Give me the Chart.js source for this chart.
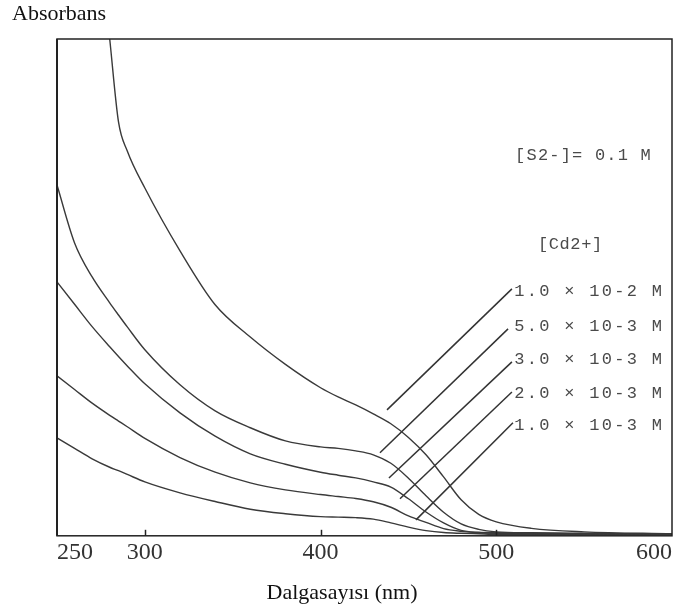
<!DOCTYPE html>
<html>
<head>
<meta charset="utf-8">
<script src="https://cdn.jsdelivr.net/npm/chart.js@4.4.1/dist/chart.umd.min.js"></script>
<style>
html,body{margin:0;padding:0;background:#fff;}
#wrap{width:681px;height:615px;position:relative;}
</style>
</head>
<body>
<div id="wrap"><canvas id="c" width="681" height="615"></canvas></div>
<script>
// ---- data ----
const wavelengths = [250,260,270,280,285,290,300,320,340,360,380,400,410,420,430,440,450,460,470,480,490,500,520,550,600];
const xTickValues = [250,300,400,500,600];

const absCd1_0e2 = [null,null,null,2.00,1.666,1.549,1.400,1.147,0.930,0.800,0.690,0.596,0.559,0.527,0.491,0.451,0.396,0.326,0.237,0.145,0.086,0.056,0.030,0.016,0.008];
const absCd5_0e3 = [1.412,1.179,1.042,0.938,0.889,0.841,0.749,0.608,0.503,0.435,0.382,0.358,0.352,0.342,0.326,0.292,0.232,0.161,0.095,0.048,0.026,0.016,0.012,0.010,0.008];
const absCd3_0e3 = [1.022,0.932,0.842,0.761,0.722,0.684,0.612,0.495,0.401,0.330,0.288,0.256,0.244,0.233,0.217,0.196,0.149,0.096,0.052,0.022,0.014,0.012,0.010,0.008,0.006];
const absCd2_0e3 = [0.644,0.589,0.534,0.485,0.462,0.439,0.392,0.315,0.256,0.213,0.185,0.166,0.158,0.150,0.137,0.115,0.080,0.054,0.029,0.018,0.012,0.010,0.008,0.006,0.006];
const absCd1_0e3 = [0.394,0.352,0.310,0.276,0.262,0.247,0.217,0.173,0.138,0.107,0.089,0.077,0.075,0.073,0.067,0.052,0.035,0.021,0.013,0.010,0.008,0.006,0.006,0.006,0.006];

const seriesLabels = ['1.0 × 10-2 M','5.0 × 10-3 M','3.0 × 10-3 M','2.0 × 10-3 M','1.0 × 10-3 M'];

// leader lines: from curve (wavelength, absorbance) to label (wavelength, absorbance)
const leaderCurveX = [437.8,433.8,438.9,445.2,454.3];
const leaderCurveY = [0.507,0.334,0.233,0.149,0.064];
const leaderLabelX = [508.9,506.7,508.9,508.9,509.5];
const leaderLabelY = [0.994,0.833,0.700,0.579,0.455];
const labelRowY   = [0.982,0.841,0.708,0.571,0.443];

const yTitle = 'Absorbans';
const xTitle = 'Dalgasayısı (nm)';
const sulfideNote = '[S2-]= 0.1 M';
const cadmiumHeader = '[Cd2+]';
const labelColumnX = 510.2;
const sulfideAnchor = {x: 510.7, y: 1.533};
const cadmiumAnchor = {x: 523.7, y: 1.171};

// ---- chart ----
const seriesValues = [absCd1_0e2, absCd5_0e3, absCd3_0e3, absCd2_0e3, absCd1_0e3];
const curveColor = '#3a3a3a';

const datasets = seriesValues.map((vals, i) => ({
  label: seriesLabels[i],
  data: wavelengths.map((w, j) => ({x: w, y: vals[j]})),
  borderColor: curveColor,
  borderWidth: 1.4,
  pointRadius: 0,
  fill: false,
  cubicInterpolationMode: 'monotone',
  spanGaps: false
}));
seriesLabels.forEach((lab, i) => {
  datasets.push({
    label: 'leader ' + lab,
    data: [{x: leaderCurveX[i], y: leaderCurveY[i]}, {x: leaderLabelX[i], y: leaderLabelY[i]}],
    borderColor: '#333',
    borderWidth: 1.5,
    pointRadius: 0,
    fill: false,
    tension: 0
  });
});

const framePlugin = {
  id: 'frame',
  afterDatasetsDraw(chart) {
    const {ctx, chartArea: a, scales: {x}} = chart;
    ctx.save();
    ctx.strokeStyle = '#222';
    ctx.lineWidth = 1.5;
    ctx.strokeRect(a.left, a.top, a.right - a.left, a.bottom - a.top);
    ctx.lineWidth = 2;
    ctx.beginPath();
    ctx.moveTo(a.left, a.top);
    ctx.lineTo(a.left, a.bottom);
    ctx.stroke();
    ctx.lineWidth = 1.5;
    xTickValues.forEach(v => {
      if (v === x.min || v === x.max) return;
      const px = Math.round(x.getPixelForValue(v)) + 0.5;
      ctx.beginPath();
      ctx.moveTo(px, a.bottom);
      ctx.lineTo(px, a.bottom - 6);
      ctx.stroke();
    });
    ctx.restore();
  }
};

const notesPlugin = {
  id: 'notes',
  afterDatasetsDraw(chart) {
    const {ctx, scales: {x, y}} = chart;
    ctx.save();
    ctx.font = '17px "Liberation Mono"';
    ctx.fillStyle = '#4a4a4a';
    ctx.textBaseline = 'middle';
    ctx.textAlign = 'left';
    ctx.letterSpacing = '2.3px';
    seriesLabels.forEach((t, i) => {
      ctx.fillText(t, x.getPixelForValue(labelColumnX), y.getPixelForValue(labelRowY[i]));
    });
    ctx.letterSpacing = '1.2px';
    ctx.fillText(sulfideNote, x.getPixelForValue(sulfideAnchor.x), y.getPixelForValue(sulfideAnchor.y));
    ctx.letterSpacing = '0.6px';
    ctx.fillText(cadmiumHeader, x.getPixelForValue(cadmiumAnchor.x), y.getPixelForValue(cadmiumAnchor.y));
    ctx.restore();
  }
};

new Chart(document.getElementById('c'), {
  type: 'line',
  data: {datasets},
  options: {
    responsive: false,
    animation: false,
    devicePixelRatio: 1,
    layout: {padding: {left: 12, right: 9, top: 0, bottom: 0}},
    plugins: {
      legend: {display: false},
      tooltip: {enabled: false},
      title: {
        display: true, text: yTitle, position: 'top', align: 'start',
        font: {family: 'Liberation Serif', size: 22, weight: 'normal'},
        color: '#111', padding: {top: 1, bottom: 11.6}
      },
      subtitle: {
        display: true, text: xTitle, position: 'bottom', align: 'center',
        font: {family: 'Liberation Serif', size: 22, weight: 'normal'},
        color: '#111', padding: {top: 12, bottom: 8.8}
      }
    },
    scales: {
      x: {
        type: 'linear', min: 250, max: 600,
        afterBuildTicks: s => { s.ticks = xTickValues.map(v => ({value: v})); },
        afterFit: s => { s.height = 32; },
        grid: {display: false, drawTicks: false},
        border: {display: false},
        ticks: {
          align: 'inner', padding: 3, maxRotation: 0, autoSkip: false,
          color: '#333',
          font: {family: 'Liberation Serif', size: 24},
          callback: v => String(v)
        }
      },
      y: {
        type: 'linear', min: 0, max: 2,
        afterFit: s => { s.width = 45; },
        grid: {display: false, drawTicks: false},
        border: {display: false},
        ticks: {display: false}
      }
    }
  },
  plugins: [framePlugin, notesPlugin]
});
</script>
</body>
</html>
